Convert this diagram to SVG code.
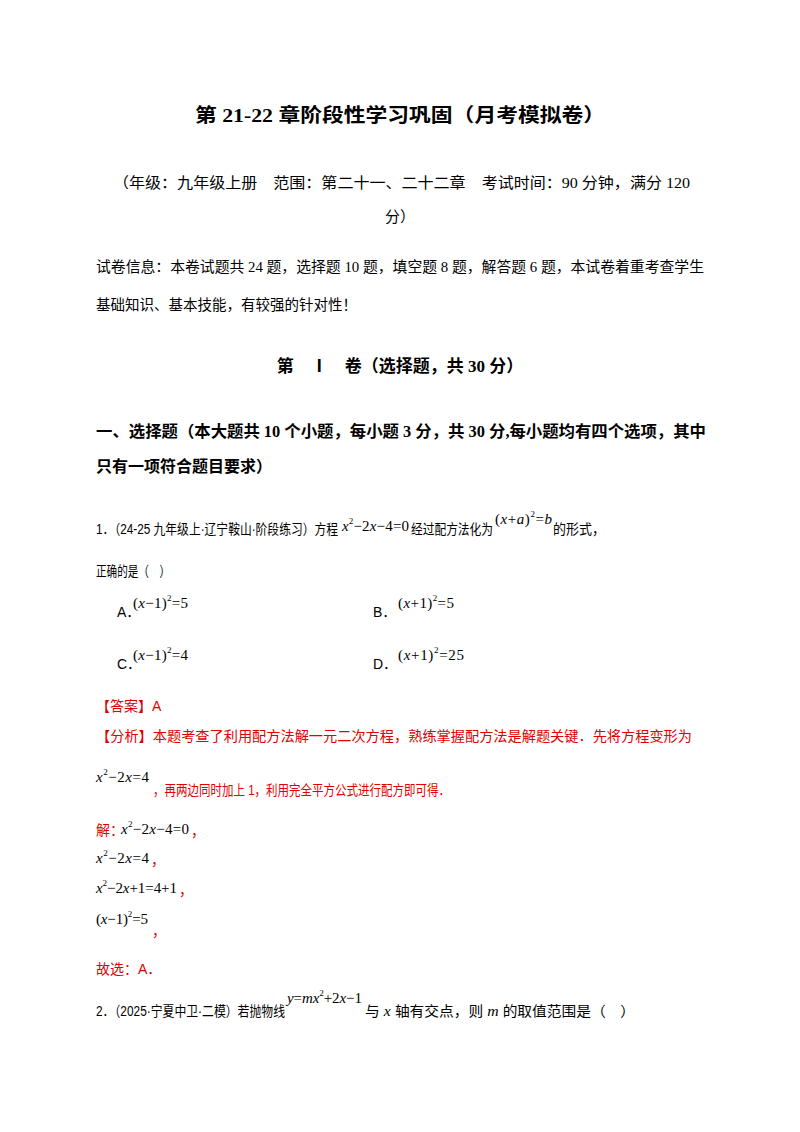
<svg xmlns="http://www.w3.org/2000/svg" width="800" height="1132" viewBox="0 0 800 1132">
<style>
text{font-family:"Liberation Serif","Noto Sans CJK SC",serif;font-size:14.5px;fill:#000}
.b{font-weight:bold}
.r{fill:#e00000}
.s{font-family:"Liberation Sans","Noto Sans CJK SC",sans-serif;font-size:14px}
.m{font-family:"Liberation Serif",serif;font-size:15px}
.i{font-style:italic}
.sup{font-size:9px}
</style>
<rect width="800" height="1132" fill="#fff"/>
<text x="195" y="122" class="b" textLength="410" lengthAdjust="spacingAndGlyphs" style="font-size:19px">第 21-22  章阶段性学习巩固（月考模拟卷）</text>
<text x="113" y="188" textLength="577" lengthAdjust="spacingAndGlyphs" style="font-size:15px">（年级：九年级上册　范围：第二十一、二十二章　考试时间：90 分钟，满分 120</text>
<text x="400" y="222" text-anchor="middle" style="font-size:15px">分）</text>
<text x="96" y="272" textLength="608" lengthAdjust="spacingAndGlyphs">试卷信息：本卷试题共 24 题，选择题 10 题，填空题 8 题，解答题 6 题，本试卷着重考查学生</text>
<text x="96" y="310">基础知识、基本技能，有较强的针对性！</text>
<text x="400" y="372" text-anchor="middle" class="b" style="font-size:17px">第　Ⅰ　卷（选择题，共 30 分）</text>
<text x="96" y="437" class="b" textLength="610" lengthAdjust="spacingAndGlyphs" style="font-size:16px">一、选择题（本大题共 10 个小题，每小题 3 分，共 30 分,每小题均有四个选项，其中</text>
<text x="96" y="472" class="b" style="font-size:16px">只有一项符合题目要求）</text>
<text x="96" y="534" class="s" textLength="242" lengthAdjust="spacingAndGlyphs">1．（24-25 九年级上·辽宁鞍山·阶段练习）方程</text>
<text x="342" y="531" class="m" textLength="67"><tspan class="i">x</tspan><tspan class="sup" dy="-7">2</tspan><tspan dy="7">−2</tspan><tspan class="i">x</tspan>−4=0</text>
<text x="411" y="534" class="s" textLength="82" lengthAdjust="spacingAndGlyphs">经过配方法化为</text>
<text x="495" y="524" class="m" textLength="57">(<tspan class="i">x</tspan>+<tspan class="i">a</tspan>)<tspan class="sup" dy="-7">2</tspan><tspan dy="7">=</tspan><tspan class="i">b</tspan></text>
<text x="553" y="534" class="s" textLength="52" lengthAdjust="spacingAndGlyphs">的形式，</text>
<text x="96" y="576" class="s" textLength="74" lengthAdjust="spacingAndGlyphs">正确的是（　）</text>
<text x="117" y="617" class="s">A．</text>
<text x="133" y="608" class="m" textLength="55">(<tspan class="i">x</tspan>−1)<tspan class="sup" dy="-7">2</tspan><tspan dy="7">=5</tspan></text>
<text x="373" y="617" class="s">B．</text>
<text x="398" y="608" class="m" textLength="56">(<tspan class="i">x</tspan>+1)<tspan class="sup" dy="-7">2</tspan><tspan dy="7">=5</tspan></text>
<text x="117" y="669" class="s">C．</text>
<text x="133" y="660" class="m" textLength="55">(<tspan class="i">x</tspan>−1)<tspan class="sup" dy="-7">2</tspan><tspan dy="7">=4</tspan></text>
<text x="373" y="669" class="s">D．</text>
<text x="398" y="660" class="m" textLength="66">(<tspan class="i">x</tspan>+1)<tspan class="sup" dy="-7">2</tspan><tspan dy="7">=25</tspan></text>
<text x="96" y="711" class="r s">【答案】A</text>
<text x="96" y="741" class="r s" textLength="596" lengthAdjust="spacingAndGlyphs">【分析】本题考查了利用配方法解一元二次方程，熟练掌握配方法是解题关键．先将方程变形为</text>
<text x="96" y="782" class="m" textLength="53"><tspan class="i">x</tspan><tspan class="sup" dy="-7">2</tspan><tspan dy="7">−2</tspan><tspan class="i">x</tspan>=4</text>
<text x="153" y="795" class="r s" textLength="297" lengthAdjust="spacingAndGlyphs">，再两边同时加上 1，利用完全平方公式进行配方即可得．</text>
<text x="96" y="835" class="r s">解：</text>
<text x="121" y="834" class="m" textLength="68"><tspan class="i">x</tspan><tspan class="sup" dy="-7">2</tspan><tspan dy="7">−2</tspan><tspan class="i">x</tspan>−4=0</text>
<text x="191" y="836" class="r s">，</text>
<text x="96" y="863" class="m" textLength="53"><tspan class="i">x</tspan><tspan class="sup" dy="-7">2</tspan><tspan dy="7">−2</tspan><tspan class="i">x</tspan>=4</text>
<text x="151" y="865" class="r s">，</text>
<text x="96" y="893" class="m" textLength="81"><tspan class="i">x</tspan><tspan class="sup" dy="-7">2</tspan><tspan dy="7">−2</tspan><tspan class="i">x</tspan>+1=4+1</text>
<text x="179" y="895" class="r s">，</text>
<text x="96" y="924" class="m" textLength="52">(<tspan class="i">x</tspan>−1)<tspan class="sup" dy="-7">2</tspan><tspan dy="7">=5</tspan></text>
<text x="152" y="936" class="r s">，</text>
<text x="96" y="974" class="r s">故选：A．</text>
<text x="96" y="1016" class="s" textLength="189" lengthAdjust="spacingAndGlyphs">2．（2025·宁夏中卫·二模）若抛物线</text>
<text x="287" y="1003" class="m" textLength="75"><tspan class="i">y</tspan>=<tspan class="i">mx</tspan><tspan class="sup" dy="-7">2</tspan><tspan dy="7">+2</tspan><tspan class="i">x</tspan>−1</text>
<text x="365" y="1016" class="s" textLength="270" lengthAdjust="spacingAndGlyphs">与 <tspan class="m i">x</tspan> 轴有交点，则 <tspan class="m i">m</tspan> 的取值范围是（　）</text>
</svg>
